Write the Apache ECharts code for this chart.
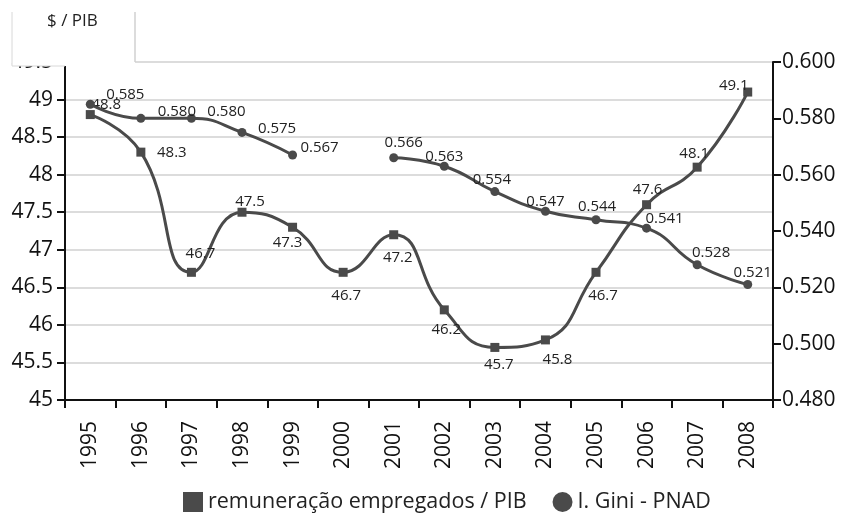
<!DOCTYPE html>
<html>
<head>
<meta charset="utf-8">
<script src="https://cdn.jsdelivr.net/npm/echarts@6/dist/echarts.min.js"></script>
<style>html,body{margin:0;padding:0;background:#fff;}#c{width:842px;height:516px;}</style>
</head>
<body>
<div id="c"></div>
<script>
const years = ['1995','1996','1997','1998','1999','2000','2001','2002','2003','2004','2005','2006','2007','2008'];
const remuneracao = [48.8, 48.3, 46.7, 47.5, 47.3, 46.7, 47.2, 46.2, 45.7, 45.8, 46.7, 47.6, 48.1, 49.1];
const gini = [0.585, 0.580, 0.580, 0.575, 0.567, null, 0.566, 0.563, 0.554, 0.547, 0.544, 0.541, 0.528, 0.521];
const seriesNames = ['remuneração empregados / PIB', 'I. Gini - PNAD'];
const leftAxisTitle = '$ / PIB';

// label offsets (style only)
const offA = [[16,-10],[31,1],[9,-19],[8,-10],[-5,15],[3,23],[4,23],[2,20],[4,17],[12,20],[7,23],[1,-15],[-3,-13],[-14,-6]];
const offB = [[35,-10],[36,-7],[35,-7],[35,-4],[27,-7],[0,0],[10,-15],[0,-9],[-3,-12],[0,-10],[1,-13],[18,-9],[14,-12],[5,-12]];

const FONT = 'Open Sans';
const chart = echarts.init(document.getElementById('c'), null, {renderer: 'canvas'});
const lineColor = '#4a4a4a';

chart.setOption({
  animation: false,
  backgroundColor: '#fff',
  grid: {left: 65, right: 69, top: 62, bottom: 116, containLabel: false},
  legend: {
    left: 178, top: 486,
    itemWidth: 20, itemHeight: 20, itemGap: 26,
    textStyle: {fontFamily: FONT, fontSize: 21.5, color: '#222'},
    data: [
      {name: seriesNames[0], icon: 'rect', itemStyle: {color: lineColor}},
      {name: seriesNames[1], icon: 'circle', itemStyle: {color: lineColor}}
    ]
  },
  xAxis: {
    type: 'category', data: years, boundaryGap: true,
    axisLine: {lineStyle: {color: '#111', width: 2}},
    axisTick: {show: true, length: 8, alignWithLabel: false, lineStyle: {color: '#111', width: 2}},
    axisLabel: {rotate: 90, margin: 21, fontFamily: FONT, fontSize: 21, color: '#111', interval: 0},
    splitLine: {show: false}
  },
  yAxis: [
    {
      type: 'value', min: 45, max: 49.5, interval: 0.5, position: 'left',
      axisLine: {show: true, lineStyle: {color: '#111', width: 2}},
      axisTick: {show: true, length: 8, lineStyle: {color: '#111', width: 2}},
      axisLabel: {fontFamily: FONT, fontSize: 21, color: '#111', margin: 12},
      splitLine: {show: true, lineStyle: {color: '#dcdcdc', width: 2}}
    },
    {
      type: 'value', min: 0.48, max: 0.6, interval: 0.02, position: 'right',
      axisLine: {show: true, lineStyle: {color: '#111', width: 2}},
      axisTick: {show: true, length: 8, lineStyle: {color: '#111', width: 2}},
      axisLabel: {fontFamily: FONT, fontSize: 21, color: '#111', margin: 9,
        formatter: v => v.toFixed(3)},
      splitLine: {show: false}
    }
  ],
  series: [
    {
      name: seriesNames[0], type: 'line', yAxisIndex: 0, smooth: 0.5,
      symbol: 'rect', symbolSize: 9,
      lineStyle: {color: lineColor, width: 3},
      itemStyle: {color: lineColor},
      label: {show: true, position: 'inside', fontFamily: FONT, fontSize: 15, color: '#222'},
      data: remuneracao.map((v, i) => ({value: v, label: {offset: offA[i]}})),
      z: 3
    },
    {
      name: seriesNames[1], type: 'line', yAxisIndex: 1, smooth: 0.5, connectNulls: false,
      symbol: 'circle', symbolSize: 9,
      lineStyle: {color: lineColor, width: 3},
      itemStyle: {color: lineColor},
      label: {show: true, position: 'inside', fontFamily: FONT, fontSize: 15, color: '#222',
        formatter: p => (p.value == null ? '' : Number(p.value).toFixed(3))},
      data: gini.map((v, i) => ({value: v, label: {offset: offB[i]}})),
      z: 4
    }
  ],
  graphic: [
    {type: 'rect', z: 100, shape: {x: 12, y: -2, width: 123, height: 68}, style: {fill: '#fff'}},
    {type: 'polyline', z: 101, shape: {points: [[12,12],[12,66],[65,66]]}, style: {stroke: '#d8d8d8', lineWidth: 1, fill: null}},
    {type: 'polyline', z: 101, shape: {points: [[135,12],[135,62]]}, style: {stroke: '#d0d0d0', lineWidth: 1.5, fill: null}},
    {type: 'text', z: 102, left: 47, top: 13, style: {text: leftAxisTitle, font: '17px "Open Sans"', fill: '#222'}}
  ]
});
</script>
</body>
</html>
